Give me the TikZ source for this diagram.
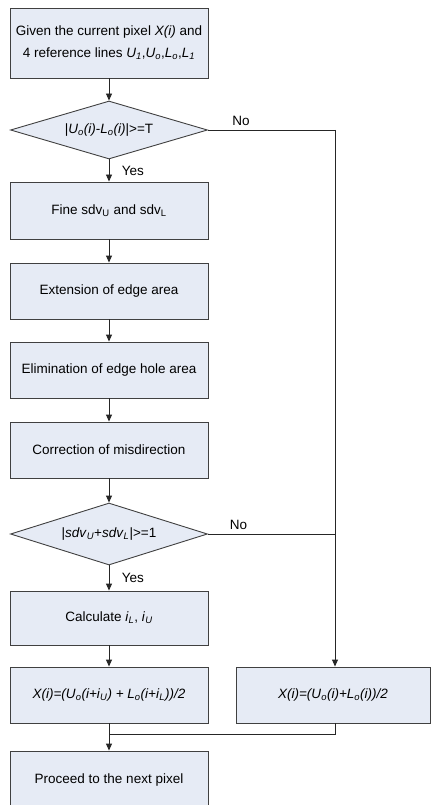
\documentclass[tikz,border=0pt]{standalone}
\usepackage{fontspec}
\setmainfont{Liberation Sans}
\usepackage{xcolor}
\usepackage{tikz}
\usetikzlibrary{shapes,arrows,positioning,calc,arrows.meta}
\definecolor{boxfill}{HTML}{E6EBF5}
\definecolor{boxline}{HTML}{404040}
\newcommand{\sbi}[1]{\textsubscript{\itshape #1}}

\begin{document}
\begin{tikzpicture}[
      x=1pt, y=-1pt,
      block/.style={rectangle, draw=boxline, line width=0.9pt, fill=boxfill, minimum width=198pt, minimum height=56pt, inner sep=0pt, font=\fontsize{13.5}{22}\selectfont, align=center},
      decision/.style={diamond, draw=boxline, line width=0.9pt, fill=boxfill, minimum width=197pt, minimum height=60pt, shape aspect=3.3, inner sep=0pt, font=\fontsize{13.5}{22}\selectfont},
      arrow/.style={-{Triangle[length=7pt,width=6pt]}, line width=0.9pt, draw=black!85},
      line/.style={line width=0.9pt, draw=black!85},
      answer/.style={font=\fontsize{13.5}{16}\selectfont, text=black},
    ]
    \useasboundingbox (0, 0) rectangle (431, 805);
    \node [block, minimum height=70pt] (given) at (109, 43) {Given the current pixel \textit{X(i)} and\\4 reference lines \textit{U}\sbi{1},\textit{U}\sbi{o},\textit{L}\sbi{o},\textit{L}\sbi{1}};
    \node [decision, minimum height=58pt] (diff) at (109, 130) {|\textit{U}\sbi{o}\textit{(i)}-\textit{L}\sbi{o}\textit{(i)}|>=T};
    \node [block, minimum height=57pt] (fine) at (109, 210.5) {Fine sdv\textsubscript{U} and sdv\textsubscript{L}};
    \node [block] (extend) at (109, 291) {Extension of edge area};
    \node [block] (hole) at (109, 370) {Elimination of edge hole area};
    \node [block] (correct) at (109, 450) {Correction of misdirection};
    \node [decision, minimum height=62pt] (sum) at (109, 534) {|\textit{sdv}\sbi{U}+\textit{sdv}\sbi{L}|>=1};
    \node [block, minimum height=54pt] (calc) at (109, 618) {Calculate \textit{i}\sbi{L}, \textit{i}\sbi{U}};
    \node [block] (interp) at (109, 695) {\textit{X(i)=(U}\sbi{o}\textit{(i+i}\sbi{U}\textit{) + L}\sbi{o}\textit{(i+i}\sbi{L}\textit{))/2}};
    \node [block, minimum width=194pt] (mean) at (333, 695) {\textit{X(i)=(U}\sbi{o}\textit{(i)+L}\sbi{o}\textit{(i))/2}};
    \node [block, minimum height=58pt] (next) at (109, 780) {Proceed to the next pixel};
    \coordinate (nocorner) at (335, 130);
    \coordinate (merge) at (109, 734);
    \draw [arrow] (given) -- (diff);
    \draw [arrow] (diff) -- (fine) node [midway, right=9pt, answer] {Yes};
    \draw [arrow] (fine) -- (extend);
    \draw [arrow] (extend) -- (hole);
    \draw [arrow] (hole) -- (correct);
    \draw [arrow] (correct) -- (sum);
    \draw [arrow] (sum) -- (calc) node [midway, right=9pt, answer] {Yes};
    \draw [arrow] (calc) -- (interp);
    \draw [line] (diff) -- (nocorner) node [pos=0.26, above=1pt, answer] {No};
    \draw [line] (sum) -- (sum -| nocorner) node [pos=0.24, above=1pt, answer] {No};
    \draw [arrow] (nocorner) -- (nocorner |- mean.north);
    \draw [line] (mean.south -| nocorner) |- (merge);
    \draw [arrow] (interp) -- (next);
  \end{tikzpicture}
\end{document}
